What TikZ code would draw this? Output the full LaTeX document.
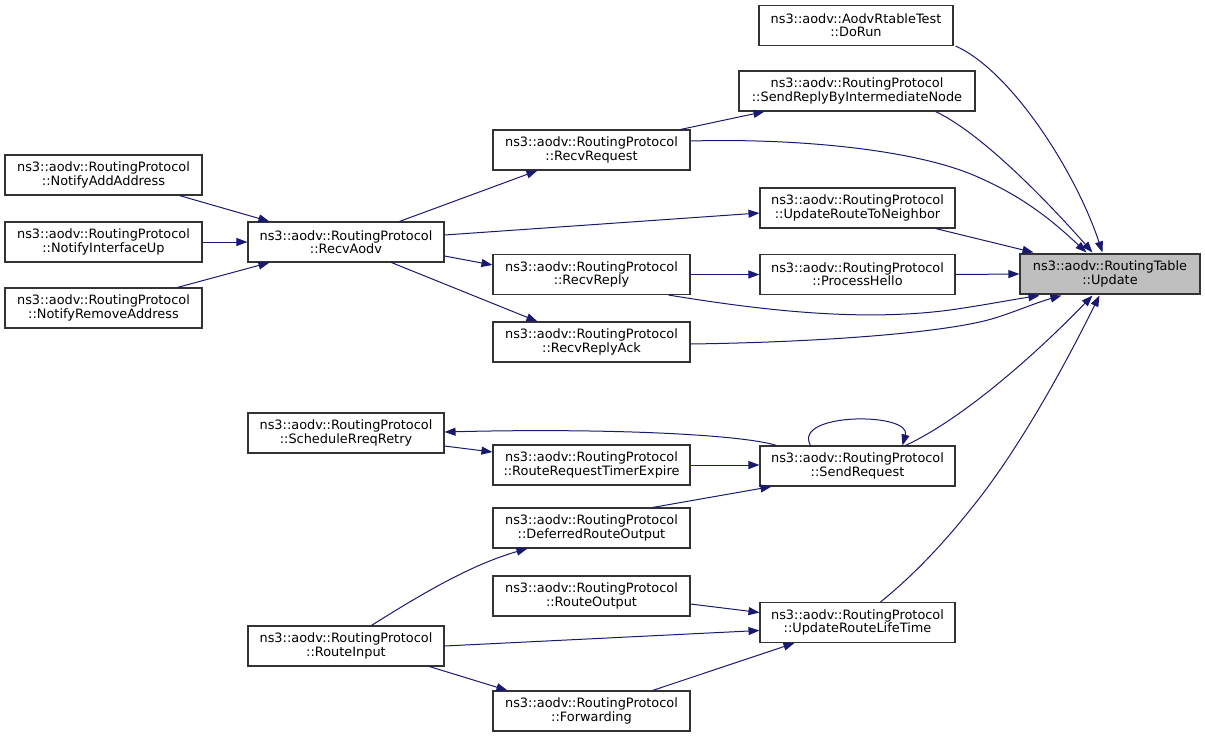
\documentclass[tikz,border=0pt]{standalone}
\usepackage{fontspec}
\setmainfont{DejaVu Sans}
\usetikzlibrary{arrows.meta,calc}
\definecolor{edgeblue}{HTML}{191970}
\definecolor{boxgray}{HTML}{BFBFBF}
\definecolor{boxline}{HTML}{333333}
\tikzset{
  fn/.style={draw=boxline, line width=1.1pt, fill=white, align=center, inner sep=0pt,
    minimum height=40pt, font=\fontsize{12.9}{13.2}\selectfont},
  cur/.style={fn, fill=boxgray},
  call/.style={draw=edgeblue, line width=1pt, -{Triangle[length=11pt,width=8pt]}}
}
\begin{document}
\begin{tikzpicture}[x=1pt,y=-1pt]
\useasboundingbox (0,0) rectangle (1205,737);
% nodes
\node[cur, minimum width=180pt] (Update) at (1110,274) {ns3::aodv::RoutingTable\\::Update};
\node[fn, minimum width=194pt] (DoRun) at (856,25.5) {ns3::aodv::AodvRtableTest\\::DoRun};
\node[fn, minimum width=236pt] (SRBIN) at (857,91) {ns3::aodv::RoutingProtocol\\::SendReplyByIntermediateNode};
\node[fn, minimum width=197pt] (RecvRequest) at (591.5,150) {ns3::aodv::RoutingProtocol\\::RecvRequest};
\node[fn, minimum width=195pt] (URTN) at (857.5,208) {ns3::aodv::RoutingProtocol\\::UpdateRouteToNeighbor};
\node[fn, minimum width=196pt] (RecvAodv) at (346,242) {ns3::aodv::RoutingProtocol\\::RecvAodv};
\node[fn, minimum width=197pt] (NAA) at (103.5,175) {ns3::aodv::RoutingProtocol\\::NotifyAddAddress};
\node[fn, minimum width=197pt] (NIU) at (103.5,242) {ns3::aodv::RoutingProtocol\\::NotifyInterfaceUp};
\node[fn, minimum width=197pt] (NRA) at (103.5,308) {ns3::aodv::RoutingProtocol\\::NotifyRemoveAddress};
\node[fn, minimum width=197pt] (RecvReply) at (591.5,274.5) {ns3::aodv::RoutingProtocol\\::RecvReply};
\node[fn, minimum width=195pt] (ProcessHello) at (857.5,274.5) {ns3::aodv::RoutingProtocol\\::ProcessHello};
\node[fn, minimum width=197pt] (RecvReplyAck) at (591.5,342) {ns3::aodv::RoutingProtocol\\::RecvReplyAck};
\node[fn, minimum width=196pt] (SRR) at (346,433) {ns3::aodv::RoutingProtocol\\::ScheduleRreqRetry};
\node[fn, minimum width=197pt] (RRTE) at (591.5,465) {ns3::aodv::RoutingProtocol\\::RouteRequestTimerExpire};
\node[fn, minimum width=195pt] (SendRequest) at (857.5,466) {ns3::aodv::RoutingProtocol\\::SendRequest};
\node[fn, minimum width=197pt] (DRO) at (591.5,528) {ns3::aodv::RoutingProtocol\\::DeferredRouteOutput};
\node[fn, minimum width=197pt] (RouteOutput) at (591.5,596) {ns3::aodv::RoutingProtocol\\::RouteOutput};
\node[fn, minimum width=195pt] (URLT) at (857.5,622.5) {ns3::aodv::RoutingProtocol\\::UpdateRouteLifeTime};
\node[fn, minimum width=196pt] (RouteInput) at (346,646) {ns3::aodv::RoutingProtocol\\::RouteInput};
\node[fn, minimum width=197pt] (Forwarding) at (591.5,711) {ns3::aodv::RoutingProtocol\\::Forwarding};
% edges into Update
\draw[call] ($(DoRun.south east)+(2,0)$) .. controls (1010,70) and (1075,170) .. ($(Update.north west)+(83,-1)$);
\draw[call] ($(SRBIN.south east)+(-40,0)$) .. controls (985,135) and (1055,210) .. ($(Update.north west)+(73,-1)$);
\draw[call] ($(RecvRequest.east)+(0,-9)$) .. controls (800,138) and (920,150) .. (980,178) .. controls (1030,200) and (1060,228) .. ($(Update.north west)+(67,-1)$);
\draw[call] ($(URTN.south east)+(-20,0)$) -- ($(Update.north west)+(14,-1)$);
\draw[call] (ProcessHello.east) -- (Update.west);
\draw[call] ($(RecvReply.south east)+(-22,0)$) .. controls (760,310) and (860,322) .. (950,310) .. controls (985,305) and (1010,300) .. ($(Update.south west)+(20,1)$);
\draw[call] ($(RecvReplyAck.east)+(0,2)$) .. controls (830,342) and (950,332) .. (995,318) .. controls (1020,310) and (1035,303) .. ($(Update.south west)+(42,1)$);
\draw[call] ($(SendRequest.north east)+(-50,0)$) .. controls (960,420) and (1030,360) .. ($(Update.south west)+(73,1)$);
\draw[call] ($(URLT.north east)+(-75,0)$) .. controls (920,570) and (950,535) .. (970,510) .. controls (1015,455) and (1060,375) .. ($(Update.south west)+(80,1)$);
% other edges
\draw[call] ($(RecvRequest.north east)+(-10,0)$) -- ($(SRBIN.south west)+(26,0)$);
\draw[call] ($(RecvAodv.north west)+(152,0)$) -- ($(RecvRequest.south west)+(45,0)$);
\draw[call] ($(RecvAodv.east)+(0,-7)$) -- ($(URTN.west)+(0,5)$);
\draw[call] ($(RecvAodv.east)+(0,14)$) -- ($(RecvReply.west)+(0,-9.5)$);
\draw[call] ($(RecvAodv.south west)+(144,0)$) -- ($(RecvReplyAck.north west)+(45,0)$);
\draw[call] (RecvReply.east) -- (ProcessHello.west);
\draw[call] ($(NAA.south west)+(175,0)$) -- ($(RecvAodv.north west)+(22,0)$);
\draw[call] (NIU.east) -- (RecvAodv.west);
\draw[call] ($(NRA.north west)+(173,0)$) -- ($(RecvAodv.south west)+(22,0)$);
\draw[call] ($(SendRequest.north west)+(17,0)$) .. controls (740,434) and (600,428) .. ($(SRR.east)+(0,-1)$);
\draw[call] ($(SRR.east)+(0,13)$) -- ($(RRTE.west)+(0,-13)$);
\draw[call] (RRTE.east) -- ($(SendRequest.west)+(0,-1)$);
\draw[call] ($(DRO.north east)+(-38,0)$) -- ($(SendRequest.south west)+(12,0)$);
\draw[call] ($(SendRequest.north west)+(51,0)$) .. controls (792,412) and (912,412) .. ($(SendRequest.north west)+(143,0)$);
\draw[call] ($(RouteInput.north west)+(124,0)$) .. controls (420,595) and (470,565) .. ($(DRO.south west)+(35,0)$);
\draw[call] ($(RouteOutput.east)+(0,8)$) -- ($(URLT.west)+(0,-10)$);
\draw[call] (RouteInput.east) -- ($(URLT.west)+(0,8)$);
\draw[call] ($(RouteInput.south west)+(182,0)$) -- ($(Forwarding.north west)+(15,0)$);
\draw[call] ($(Forwarding.north east)+(-38,0)$) -- ($(URLT.south west)+(35,0)$);
\end{tikzpicture}
\end{document}
